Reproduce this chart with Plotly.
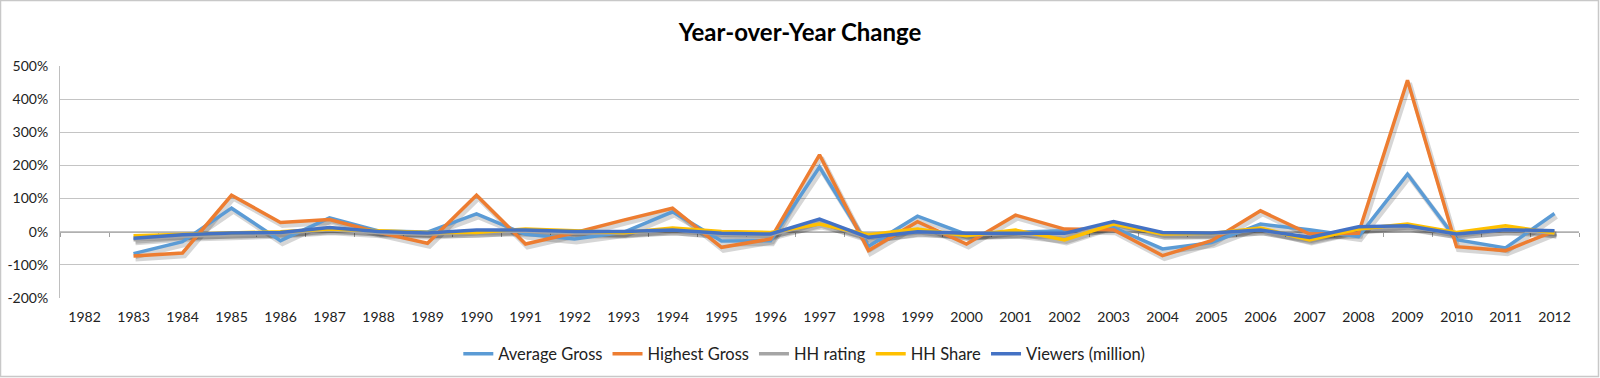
import plotly.graph_objects as go

years = [str(y) for y in range(1982, 2013)]

average_gross = [None, -66, -30, 71, -27, 42, 2, -1, 54, -8, -22, -2, 60, -28, -27, 195,
                 -44, 47, -8, -2, 3, 13, -52, -33, 23, 6, -15, 174, -24, -49, 55]
highest_gross = [None, -73, -64, 110, 28, 37, -2, -35, 110, -37, -3, 35, 71, -47, -22, 232,
                 -57, 30, -37, 50, 8, 6, -72, -27, 63, -7, -5, 457, -45, -57, 2]
hh_rating = [None, -24, -14, -9, -4, 6, -3, -8, 0, 2, -4, -4, 6, -8, -10, 28,
             -19, 2, -10, -5, -20, 26, -8, -7, 6, -22, 10, 16, -7, 6, -4]
hh_share = [None, -12, -8, -5, 0, 8, 2, -2, -2, 8, 3, -3, 11, 1, -2, 23,
            -9, 8, -12, 5, -25, 23, -7, -5, 11, -25, 8, 23, -2, 18, -4]
viewers = [None, -20, -9, -4, -2, 13, 1, -4, 5, 5, 1, 1, 5, -5, -7, 38,
           -17, 0, -5, -5, -5, 31, -2, -4, 5, -17, 15, 18, -7, 6, 3]

series_names = ["Average Gross", "Highest Gross", "HH rating", "HH Share", "Viewers (million)"]
series_values = [average_gross, highest_gross, hh_rating, hh_share, viewers]
series_colors = ["#5B9BD5", "#ED7D31", "#A5A5A5", "#FFC000", "#4472C4"]

y_ticks = [-200, -100, 0, 100, 200, 300, 400, 500]
y_tick_text = ["-200%", "-100%", "0%", "100%", "200%", "300%", "400%", "500%"]

W, H = 1600, 378
M = dict(l=60, r=21, t=66, b=80, autoexpand=False)
pw = W - M["l"] - M["r"]
ph = H - M["t"] - M["b"]
n = len(years)
ymin, ymax = y_ticks[0], y_ticks[-1]

# shadow offset (pixels -> data units)
sx = 2.0 * n / pw
sy = 3.0 * (ymax - ymin) / ph

FONT = "Lato, 'Open Sans', sans-serif"
fig = go.Figure()

for name, vals in zip(series_names, series_values):
    fig.add_trace(go.Scatter(x=years, y=vals, mode="lines", xaxis="x", yaxis="y",
                             line=dict(color="rgba(0,0,0,0.16)", width=5),
                             showlegend=False, hoverinfo="skip"))

for name, vals, col in zip(series_names, series_values, series_colors):
    fig.add_trace(go.Scatter(x=years, y=vals, mode="lines", name=name,
                             xaxis="x2", yaxis="y2",
                             line=dict(color=col, width=3.5)))

# invisible helper trace for the zero axis with boundary ticks
fig.add_trace(go.Scatter(x=list(range(n)), y=[0] * n, mode="lines", xaxis="x3", yaxis="y2",
                         line=dict(color="rgba(0,0,0,0)", width=0),
                         showlegend=False, hoverinfo="skip"))

fig.update_layout(
    width=W, height=H, margin=M,
    paper_bgcolor="white", plot_bgcolor="white",
    font=dict(family=FONT, size=13, color="#222222"),
    title=dict(text="<b>Year-over-Year Change</b>", x=0.5, xref="container", xanchor="center",
               y=1 - 33 / H, yref="container", yanchor="middle",
               font=dict(family=FONT, size=24, color="#000000")),
    xaxis=dict(type="category", categoryorder="array", categoryarray=years,
               range=[-0.5 - sx, n - 0.5 - sx], visible=False, automargin=False),
    yaxis=dict(range=[ymin + sy, ymax + sy], visible=False, automargin=False),
    xaxis2=dict(type="category", categoryorder="array", categoryarray=years,
                overlaying="x", anchor="y2", range=[-0.5, n - 0.5], automargin=False,
                showgrid=False, showline=False, zeroline=False, ticks="",
                ticklabelstandoff=9, tickfont=dict(size=14, color="#222222")),
    yaxis2=dict(overlaying="y", anchor="x2", range=[ymin, ymax], tickvals=y_ticks,
                ticktext=y_tick_text, showgrid=True, gridcolor="#C4C4C4", gridwidth=1,
                zeroline=False, showline=True, linecolor="#BFBFBF", linewidth=1,
                automargin=False,
                ticks="", ticklabelstandoff=8, tickfont=dict(size=14, color="#222222")),
    xaxis3=dict(overlaying="x", anchor="free", position=(0 - ymin) / (ymax - ymin),
                range=[-0.5, n - 0.5], tick0=0.5, dtick=1, ticks="outside", ticklen=4,
                tickcolor="#A0A0A0", showline=True, linecolor="#B0B0B0", linewidth=1,
                automargin=False,
                showticklabels=False, showgrid=False, zeroline=False, layer="below traces"),
    legend=dict(orientation="h", x=0.49, xanchor="center", xref="paper",
                y=1 - 354 / H, yref="container",
                yanchor="middle", font=dict(family=FONT, size=16.5, color="#222222"),
                bgcolor="rgba(0,0,0,0)", itemwidth=30),
    shapes=[dict(type="rect", xref="paper", yref="paper",
                 x0=(0.5 - M["l"]) / pw, x1=(W - 1.5 - M["l"]) / pw,
                 y0=-(M["b"] - 1.5) / ph, y1=1 + (M["t"] - 0.5) / ph,
                 line=dict(color="#C8C8C8", width=1.5), layer="below")],
)

fig.write_html("out.html", config={"displayModeBar": False},
               post_script="document.body.style.margin='0';document.body.style.overflow='hidden';")
